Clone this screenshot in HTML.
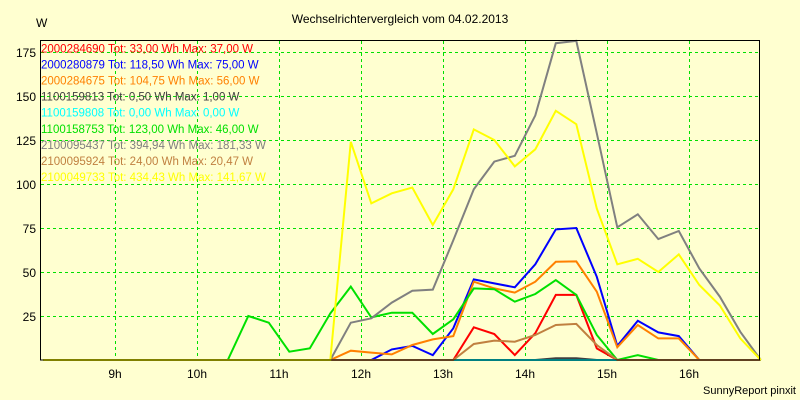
<!DOCTYPE html>
<html><head><meta charset="utf-8"><style>
body{margin:0;background:#ffffd0;}
svg{display:block;font-family:"Liberation Sans",Arial,sans-serif;}
</style></head><body>
<svg id="chart" width="800" height="400" xmlns="http://www.w3.org/2000/svg">
<rect x="0" y="0" width="800" height="400" fill="#ffffd0"/>
<text x="400" y="23" font-size="12" text-anchor="middle" fill="#000">Wechselrichtervergleich vom 04.02.2013</text>
<text x="36" y="27" font-size="12" fill="#000">W</text>
<text x="796" y="394" font-size="11" text-anchor="end" fill="#000">SunnyReport pinxit</text>
<g id="grid"></g>
<g id="series"></g>
<g id="legend"></g>
<rect x="40.5" y="40.5" width="719" height="319.5" fill="none" stroke="#000" stroke-width="1"/>
<g id="axes"></g>
</svg>
<script>
const times=[8.125,8.375,8.625,8.875,9.125,9.375,9.625,9.875,10.125,10.375,10.625,10.875,11.125,11.375,11.625,11.875,12.125,12.375,12.625,12.875,13.125,13.375,13.625,13.875,14.125,14.375,14.625,14.875,15.125,15.375,15.625,15.875,16.125,16.375,16.625,16.875];
const yTicks=[25,50,75,100,125,150,175];
const xTicks=[9,10,11,12,13,14,15,16];
const xTickLabels=["9h","10h","11h","12h","13h","14h","15h","16h"];
const z14=[0,0,0,0,0,0,0,0,0,0,0,0,0,0];
const sRed=z14.concat([0,0,0,0,0,0,0,18.6,14.8,2.8,15.2,37,37,6.6,0,0,0,0,0,0,0,0]);
const sBlue=z14.concat([0,0,0,6,8,2.8,18,45.8,43.5,41.3,54.4,74.2,75,47.3,8,22.3,15.7,13.6,0,0,0,0]);
const sOrange=z14.concat([0,5.3,4.2,3.2,8.5,11.7,13.6,44.5,40.7,38.3,44.5,55.8,56,38.8,7.2,19.9,12.3,12.3,0,0,0,0]);
const sDark=z14.concat([0,0,0,0,0,0,0,0,0,0,0,1,1,0,0,0,0,0,0,0,0,0]);
const sCyan=z14.concat([0,0,0,0,0,0,0,0,0,0,0,0,0,0,0,0,0,0,0,0,0,0]);
const sGreen=[0,0,0,0,0,0,0,0,0,0,25,21.2,4.7,6.6,26.5,41.7,24.2,26.9,26.9,14.8,23.1,40.7,40.2,33.1,37.5,45.4,37,14.2,0,2.8,0,0,0,0,0,0];
const sGray=z14.concat([0,21.2,23.7,32.6,39.4,40,68,97,112.7,116,139,180,181.3,128.8,75.4,82.8,68.7,73.3,52,36,16,0]);
const sBrown=z14.concat([0,0,0,0,0,0,0,9.1,11,10.4,14.2,19.9,20.5,8.5,0,0,0,0,0,0,0,0]);
const sYellow=z14.concat([0,124,89,94.7,98,76.7,97,131,125,110,119.7,141.6,134,86,54.4,57.5,50,60,42.6,31,12.3,0]);
const legendLabels=["2000284690 Tot: 33,00 Wh Max: 37,00 W","2000280879 Tot: 118,50 Wh Max: 75,00 W","2000284675 Tot: 104,75 Wh Max: 56,00 W","1100159813 Tot: 0,50 Wh Max: 1,00 W","1100159808 Tot: 0,00 Wh Max: 0,00 W","1100158753 Tot: 123,00 Wh Max: 46,00 W","2100095437 Tot: 394,94 Wh Max: 181,33 W","2100095924 Tot: 24,00 Wh Max: 20,47 W","2100049733 Tot: 434,43 Wh Max: 141,67 W"];
const seriesData=[sRed,sBlue,sOrange,sDark,sCyan,sGreen,sGray,sBrown,sYellow];
const colors=["#ff0000","#0000ff","#ff8000","#404040","#00ffff","#00e000","#808080","#c08040","#ffff00"];
const NS="http://www.w3.org/2000/svg";
function xs(h){return 361+(h-12)*82;}
function ys(v){return 360-v*44/25;}
const grid=document.getElementById('grid'),axes=document.getElementById('axes'),ser=document.getElementById('series'),leg=document.getElementById('legend');
yTicks.forEach(v=>{
 const l=document.createElementNS(NS,'line');
 
 
 l.setAttribute('x1',41);l.setAttribute('x2',759);l.setAttribute('y1',Math.round(ys(v))+0.5);l.setAttribute('y2',Math.round(ys(v))+0.5);
 l.setAttribute('stroke','#00e000');l.setAttribute('stroke-dasharray','3,3');grid.appendChild(l);
 const t=document.createElementNS(NS,'text');
 
 
 t.setAttribute('x',36);t.setAttribute('y',ys(v)+5);t.setAttribute('font-size','12');t.setAttribute('text-anchor','end');t.textContent=v;axes.appendChild(t);
});
xTicks.forEach((h,i)=>{
 const l=document.createElementNS(NS,'line');
 
 
 l.setAttribute('x1',Math.round(xs(h))+0.5);l.setAttribute('x2',Math.round(xs(h))+0.5);l.setAttribute('y1',41);l.setAttribute('y2',360);
 l.setAttribute('stroke','#00e000');l.setAttribute('stroke-dasharray','3,3');grid.appendChild(l);
 const t=document.createElementNS(NS,'text');
 
 
 t.setAttribute('x',xs(h));t.setAttribute('y',378);t.setAttribute('font-size','12');t.setAttribute('text-anchor','middle');t.textContent=xTickLabels[i];axes.appendChild(t);
});
seriesData.forEach((d,k)=>{
 const p=document.createElementNS(NS,'polyline');
 
 
 p.setAttribute('points',d.map((v,i)=>xs(times[i]).toFixed(1)+','+ys(v).toFixed(1)).join(' '));
 p.setAttribute('fill','none');p.setAttribute('stroke',colors[k]);p.setAttribute('stroke-width','2');
 ser.appendChild(p);
});
legendLabels.forEach((s,k)=>{
 const t=document.createElementNS(NS,'text');
 
 
 t.setAttribute('x',41);t.setAttribute('y',52.5+k*16.05);t.setAttribute('font-size','11.5');t.setAttribute('fill',colors[k]);t.textContent=s;leg.appendChild(t);
});
</script>
</body></html>
